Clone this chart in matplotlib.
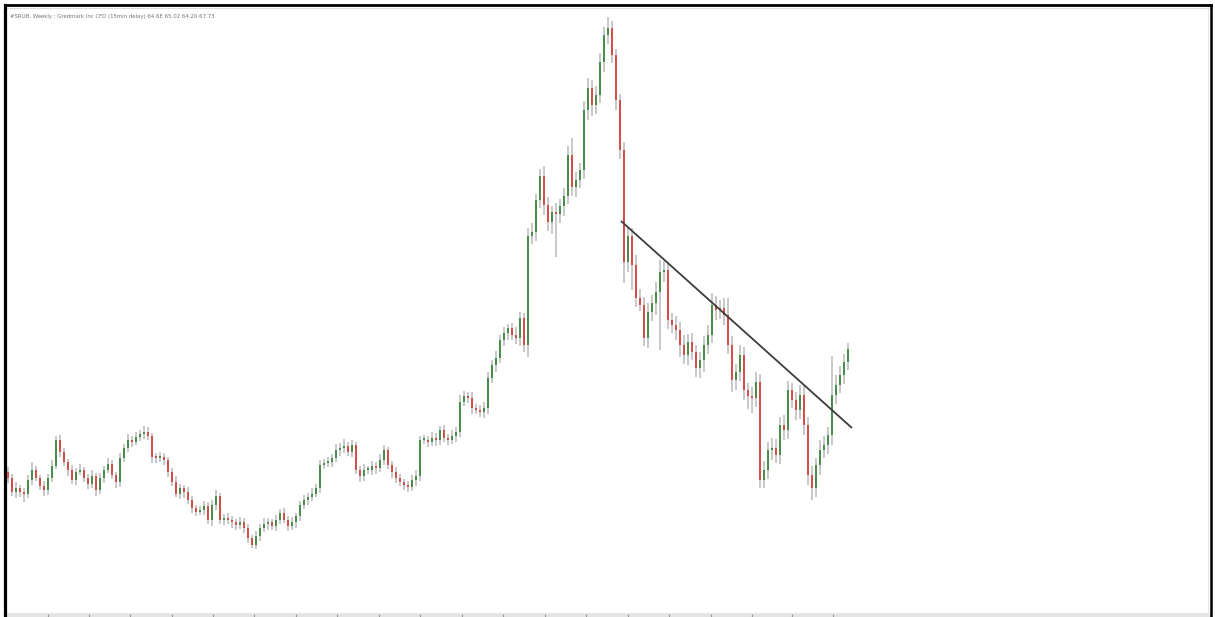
import numpy as np
import matplotlib
matplotlib.use("Agg")
import matplotlib.pyplot as plt

title_text = "#SRUB, Weekly : Gredmark Inc CFD (15min delay) 64.6E 65.02 64.20 67.73"

first_open = 44.5
closes = [
    43.9, 42.5, 42.9, 42.5, 42.3, 43.7, 44.7, 43.9, 43.1, 42.7,
    43.9, 45.1, 47.7, 46.5, 45.5, 44.7, 43.7, 44.5, 44.7, 43.9,
    43.3, 44.1, 42.7, 43.9, 44.7, 45.3, 44.2, 43.5, 45.9, 46.9,
    47.7, 47.5, 48.0, 48.3, 48.5, 48.1, 46.0, 45.9, 46.0, 45.7,
    44.5, 43.5, 42.3, 42.9, 42.5, 41.7, 40.9, 40.5, 40.7, 41.1,
    39.7, 41.2, 42.1, 39.7, 39.9, 39.7, 39.5, 39.2, 39.5, 38.9,
    37.9, 37.2, 38.1, 38.9, 39.3, 39.5, 39.1, 39.7, 40.4, 39.7,
    39.1, 39.5, 40.1, 41.2, 41.7, 42.0, 42.3, 42.9, 45.2, 45.4,
    45.5, 45.9, 46.7, 46.9, 47.1, 46.5, 47.2, 44.7, 44.1, 44.7,
    44.7, 45.1, 44.9, 45.7, 46.7, 45.2, 44.5, 43.9, 43.5, 43.2,
    43.0, 43.7, 44.1, 47.7, 47.7, 47.5, 47.9, 47.7, 48.7, 47.9,
    47.7, 48.1, 48.5, 51.5, 52.1, 51.9, 50.9, 50.7, 50.5, 50.9,
    53.9, 55.2, 55.9, 57.7, 58.4, 58.9, 58.2, 57.9, 59.9, 57.2,
    68.1, 68.5, 71.7, 74.1, 71.2, 69.5, 70.5, 70.3, 71.1, 72.1,
    76.2, 73.0, 73.7, 74.7, 80.7, 82.9, 81.2, 82.2, 85.5, 88.2,
    88.9, 86.2, 81.7, 76.7, 65.5, 68.1, 65.2, 61.9, 61.2, 57.9,
    60.5, 61.4, 62.5, 64.5, 64.7, 59.7, 59.2, 58.7, 57.2, 56.2,
    57.5, 56.5, 54.9, 55.7, 57.2, 58.2, 61.2, 60.7, 60.9, 60.2,
    57.2, 53.7, 54.5, 56.2, 52.7, 52.1, 51.9, 53.5, 43.7, 44.7,
    46.7, 46.9, 46.2, 49.2, 48.7, 52.7, 51.7, 50.7, 52.2, 49.2,
    44.2, 42.9, 45.2, 46.7, 47.2, 48.2, 52.2, 53.2, 54.2, 55.5,
    56.8,
]

# wick lengths beyond the body, in tenths of a price unit
upper_wick = [
    5, 4, 6, 3, 4, 5, 8, 4, 3, 5,
    4, 6, 4, 5, 4, 3, 5, 4, 6, 3,
    4, 6, 3, 5, 4, 6, 4, 3, 5, 4,
    6, 4, 5, 4, 6, 5, 3, 4, 5, 4,
    3, 4, 6, 4, 3, 5, 4, 3, 4, 5,
    4, 5, 6, 3, 4, 5, 4, 3, 5, 4,
    4, 3, 5, 4, 6, 4, 3, 5, 4, 5,
    4, 5, 3, 4, 5, 4, 6, 4, 5, 4,
    5, 4, 6, 5, 7, 4, 5, 3, 4, 6,
    4, 5, 4, 6, 5, 3, 4, 5, 4, 3,
    4, 5, 6, 4, 5, 4, 6, 5, 4, 5,
    4, 6, 5, 7, 5, 4, 6, 4, 5, 6,
    6, 5, 7, 5, 6, 4, 5, 8, 6, 5,
    8, 9, 6, 7, 10, 8, 6, 9, 7, 8,
    9, 17, 8, 7, 9, 10, 8, 9, 9, 8,
    11, 7, 6, 6, 8, 9, 8, 10, 9, 8,
    9, 8, 10, 12, 9, 8, 7, 9, 8, 10,
    8, 9, 7, 8, 9, 10, 12, 9, 8, 10,
    17, 9, 8, 10, 8, 7, 9, 10, 8, 9,
    8, 10, 9, 8, 10, 9, 7, 8, 10, 9,
    8, 9, 7, 10, 9, 8, 39, 10, 9, 8,
    6,
]
lower_wick = [
    5, 4, 6, 5, 8, 4, 5, 3, 4, 6,
    5, 4, 3, 5, 4, 6, 4, 5, 3, 4,
    5, 4, 6, 4, 5, 3, 4, 6, 5, 4,
    4, 5, 3, 4, 5, 4, 6, 5, 4, 5,
    5, 4, 3, 5, 6, 4, 5, 4, 3, 5,
    4, 6, 5, 4, 5, 4, 6, 5, 4, 5,
    5, 3, 4, 5, 4, 6, 4, 5, 4, 3,
    5, 4, 6, 5, 4, 5, 4, 3, 5, 4,
    4, 5, 4, 6, 5, 4, 5, 4, 6, 5,
    4, 5, 6, 4, 5, 4, 6, 5, 4, 5,
    5, 4, 6, 5, 4, 5, 4, 6, 5, 4,
    5, 4, 6, 5, 4, 5, 6, 4, 5, 6,
    6, 5, 7, 5, 6, 7, 5, 6, 8, 7,
    12, 8, 9, 8, 10, 9, 12, 43, 9, 10,
    8, 9, 10, 8, 9, 10, 11, 9, 8, 10,
    9, 8, 10, 9, 21, 10, 25, 9, 6, 8,
    10, 9, 12, 58, 10, 9, 8, 10, 12, 9,
    10, 8, 9, 10, 12, 9, 8, 10, 9, 10,
    9, 12, 10, 9, 10, 13, 15, 9, 8, 8,
    9, 10, 8, 9, 10, 9, 8, 10, 9, 10,
    10, 12, 9, 10, 8, 9, 10, 9, 8, 9,
    8,
]

trend_x = [153.25, 211.0]
trend_y = [69.6, 48.9]

tick_positions = [10, 20.25, 30.5, 41, 51.25, 61.5, 72, 82.25, 92.75, 103,
                  113.5, 123.75, 134.25, 144.5, 155, 165.25, 175.75, 186, 196, 206.25]

closes = np.array(closes)
opens = np.concatenate([[first_open], closes[:-1]])
idx = np.arange(len(closes))
body_top = np.maximum(opens, closes)
body_bot = np.minimum(opens, closes)
highs = body_top + np.array(upper_wick) / 10.0
lows = body_bot - np.array(lower_wick) / 10.0

up_col = "#4a8c4b"
dn_col = "#d44f4c"
wick_col = "#bfbfbf"

fig = plt.figure(figsize=(12.15, 6.17), dpi=100)
fig.patch.set_facecolor("white")
ax = fig.add_axes([5 / 1215, 0.0, 1206 / 1215, 612 / 617])
ax.set_xlim(-0.75, 300.75)
ax.set_ylim(30.0, 91.2)

ax.vlines(idx, lows, highs, color=wick_col, lw=1.2, zorder=2)
colors = np.where(closes >= opens, up_col, dn_col)
heights = np.maximum(body_top - body_bot, 0.2)
ax.bar(idx, heights, bottom=body_bot, width=0.72, color=colors, linewidth=0, zorder=3)

ax.plot(trend_x, trend_y, color="#3c3c3c", lw=1.3, zorder=4, solid_capstyle="butt")

# bottom time strip
ax.axhspan(30.0, 30.4, xmin=0.002, xmax=1.0, color="#e4e4e4", zorder=1, lw=0)
ax.vlines(tick_positions, 30.0, 30.35, color="#9a9a9a", lw=0.8, zorder=2)

# inner light frame lines
ax.axhline(90.9, color="#dddddd", lw=0.8, zorder=1)
ax.axvline(300.0, color="#e6e6e6", lw=0.8, zorder=1)

ax.set_xticks([])
ax.set_yticks([])
for side in ["left", "top", "right"]:
    ax.spines[side].set_color("black")
ax.spines["left"].set_linewidth(2.3)
ax.spines["top"].set_linewidth(2.0)
ax.spines["right"].set_linewidth(1.8)
ax.spines["bottom"].set_visible(False)

ax.text(0.004, 0.985, title_text, transform=ax.transAxes, fontsize=3.9,
        color="#777777", ha="left", va="top")

fig.savefig("out.png", dpi=100, facecolor="white")
